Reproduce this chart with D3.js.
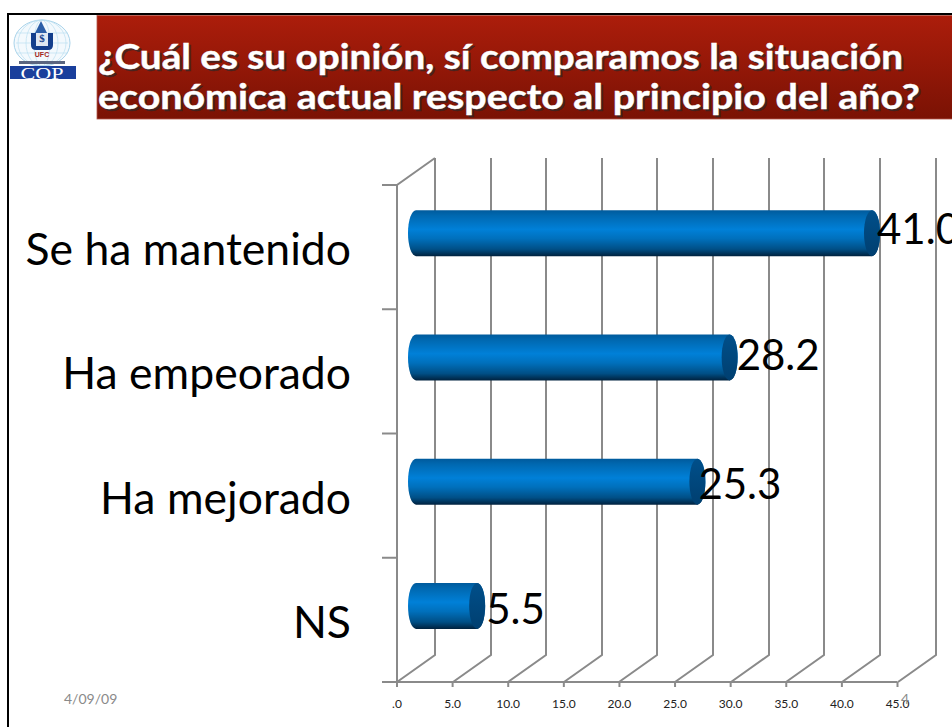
<!DOCTYPE html>
<html><head><meta charset="utf-8">
<script src="https://cdn.jsdelivr.net/npm/d3@7/dist/d3.min.js"></script>
<style>html,body{margin:0;padding:0;background:#fff;overflow:hidden}svg{display:block}</style>
</head><body><svg id="c" width="952" height="727"></svg>
<script>
const categories = ["Se ha mantenido","Ha empeorado","Ha mejorado","NS"];
const values = [41.0,28.2,25.3,5.5];
const valueLabels = ["41.0","28.2","25.3","5.5"];
const axisTicks = [0,5,10,15,20,25,30,35,40,45];
const axisTickLabels = [".0","5.0","10.0","15.0","20.0","25.0","30.0","35.0","40.0","45.0"];
const titleLines = ["¿Cuál es su opinión, sí comparamos la situación","económica actual respecto al principio del año?"];
const footerDate = "4/09/09", footerPage = "4";

const svg = d3.select("#c");
const defs = svg.append("defs");
const grad=(id,stops)=>{const g=defs.append("linearGradient").attr("id",id).attr("x1",0).attr("y1",0).attr("x2",0).attr("y2",1);
  stops.forEach(s=>g.append("stop").attr("offset",s[0]).attr("stop-color",s[1]));};
grad("head",[[0,"#ac1d0b"],[1,"#7a1204"]]);
grad("bar",[[0,"#005a9c"],[0.12,"#0068b0"],[0.42,"#0080d8"],[0.62,"#0070bc"],[0.85,"#004f86"],[1,"#00223f"]]);
grad("cap",[[0,"#004f8a"],[1,"#003f70"]]);

// slide frame
svg.append("rect").attr("x",8).attr("y",14).attr("width",950).attr("height",720).attr("fill","#fff").attr("stroke","#000").attr("stroke-width",2);

// header band
svg.append("rect").attr("x",97).attr("y",15.5).attr("width",860).attr("height",103.5).attr("fill","url(#head)").attr("stroke","#b5594c").attr("stroke-width",0.8);
const tl = svg.append("g");
titleLines.forEach((t,i)=>{
  const y=[69,109][i], len=[805,822][i];
  const add=(dx,dy,fill,op,sw)=>tl.append("text").attr("x",98+dx).attr("y",y+dy).attr("fill",fill).attr("opacity",op).text(t)
    .attr("font-family","Lato").attr("font-weight",700).attr("font-size",34)
    .attr("textLength",len).attr("lengthAdjust","spacingAndGlyphs")
    .attr("stroke",fill).attr("stroke-width",sw);
  add(2,2,"#2a2a2a",.7,.4);
  add(0,0,"#fff",1,.4);
});

// logo
const lg = svg.append("g");
lg.append("ellipse").attr("cx",42).attr("cy",43).attr("rx",28).attr("ry",23).attr("fill","#f3f9fd").attr("stroke","#a9d3ea");
[8,16,24].forEach(r=>lg.append("ellipse").attr("cx",42).attr("cy",43).attr("rx",r).attr("ry",23).attr("fill","none").attr("stroke","#bcdff0").attr("stroke-width",.7));
[33,43,53].forEach(v=>lg.append("line").attr("x1",16).attr("x2",68).attr("y1",v).attr("y2",v).attr("stroke","#bcdff0").attr("stroke-width",.7));
lg.append("path").attr("d",d3.line()([[41,21],[47,33],[35,33]])+"Z").attr("fill","#2c5fa8");
lg.append("path").attr("d","M31,33H36V44Q36,46 38,46H46Q48,46 48,44V33H53V45Q53,50 48,50H36Q31,50 31,45Z").attr("fill","#143f8c");
lg.append("rect").attr("x",36).attr("y",33).attr("width",12).attr("height",13).attr("fill","#dfe8f2");
lg.append("text").attr("x",42).attr("y",42).attr("text-anchor","middle").attr("font-family","Liberation Serif").attr("font-weight",700).attr("font-size",11).attr("fill","#143f8c").text("$");
lg.append("text").attr("x",42).attr("y",57).attr("text-anchor","middle").attr("font-family","Liberation Sans").attr("font-weight",700).attr("font-size",7).attr("fill","#a8251a").text("UFC");
lg.append("rect").attr("x",19).attr("y",61).attr("width",46).attr("height",3).attr("fill","#5a6580");
lg.append("rect").attr("x",10).attr("y",66).attr("width",66).attr("height",13).attr("fill","#1a3f9c");
lg.append("text").attr("x",42).attr("y",79).attr("text-anchor","middle").attr("font-family","Liberation Serif").attr("font-size",17).attr("textLength",43).attr("lengthAdjust","spacingAndGlyphs").attr("fill","#fff").text("COP");

// scales
const x = d3.scaleLinear().domain([0,45]).range([397,897.5]);
const y = d3.scaleBand().domain(categories).range([185,682]);
const dx = 38, dy = -27;   // depth of the 3-D wall
const barShiftX = 19, barShiftY = -14, barH = 46, capRx = 8;

// gridlines: back wall + floor diagonal
const grid = svg.append("g").attr("fill","none").attr("stroke","#8a8a8a").attr("stroke-width",2);
axisTicks.forEach((t,i)=>{
  const px=Math.round(x(t));
  grid.append("path").attr("d",d3.line()([[px,682],[px+dx,682+dy],[px+dx,185+dy]]));
});
// left wall
grid.append("path").attr("d",d3.line()([[x(0),682],[x(0),185],[x(0)+dx,185+dy]]));
// axis ticks on the category side
y.domain().concat(["end"]).forEach((c,i)=>{
  const py = c==="end"?682:y(c);
  grid.append("line").attr("x1",382).attr("x2",x(0)).attr("y1",py).attr("y2",py);
});
// value axis
grid.append("line").attr("x1",382).attr("x2",x(45)).attr("y1",682).attr("y2",682);
axisTicks.forEach(t=>grid.append("line").attr("x1",x(t)).attr("x2",x(t)).attr("y1",682).attr("y2",687));
svg.append("g").selectAll("text").data(axisTicks).join("text")
  .attr("x",d=>x(d)).attr("y",708).attr("text-anchor","middle")
  .attr("font-family","Lato").attr("font-size",12).attr("fill","#222")
  .text((d,i)=>axisTickLabels[i]);

// bars (cylinders)
const bars = svg.append("g").selectAll("g").data(categories).join("g");
bars.each(function(c,i){
  const g=d3.select(this);
  const top=y(c)+y.bandwidth()/2+barShiftY-barH/2;
  const x0=x(0)+barShiftX, x1=x(values[i])+barShiftX;
  const ry=barH/2;
  g.append("path").attr("fill","url(#bar)")
    .attr("d",`M${x0},${top}L${x1},${top}A${capRx},${ry} 0 0 1 ${x1},${top+barH}L${x0},${top+barH}A${capRx},${ry} 0 0 1 ${x0},${top}Z`);
  g.append("ellipse").attr("cx",x1).attr("cy",top+ry).attr("rx",capRx).attr("ry",ry).attr("fill","url(#cap)");
});

// data labels
const labelNudgeX=[-2,0,-6,2], labelNudgeY=[11,13,17,18];
svg.append("g").selectAll("text").data(values).join("text")
  .attr("x",(d,i)=>x(d)+barShiftX+capRx-1+labelNudgeX[i]).attr("y",(d,i)=>y(categories[i])+y.bandwidth()/2+barShiftY+labelNudgeY[i])
  .attr("font-family","Lato").attr("font-size",42).attr("fill","#000")
  .text((d,i)=>valueLabels[i]);

// category labels
svg.append("g").selectAll("text").data(categories).join("text")
  .attr("x",351).attr("y",d=>y(d)+y.bandwidth()/2+18).attr("text-anchor","end")
  .attr("font-family","Lato").attr("font-size",44.5).attr("fill","#000").text(d=>d);

// footer
svg.append("text").attr("x",64).attr("y",704).attr("font-family","Lato").attr("font-size",14).attr("fill","#8a8a8a").text(footerDate);
svg.append("text").attr("x",905).attr("y",704).attr("text-anchor","middle").attr("font-family","Lato").attr("font-size",14).attr("fill","#8a8a8a").text(footerPage);
</script></body></html>
